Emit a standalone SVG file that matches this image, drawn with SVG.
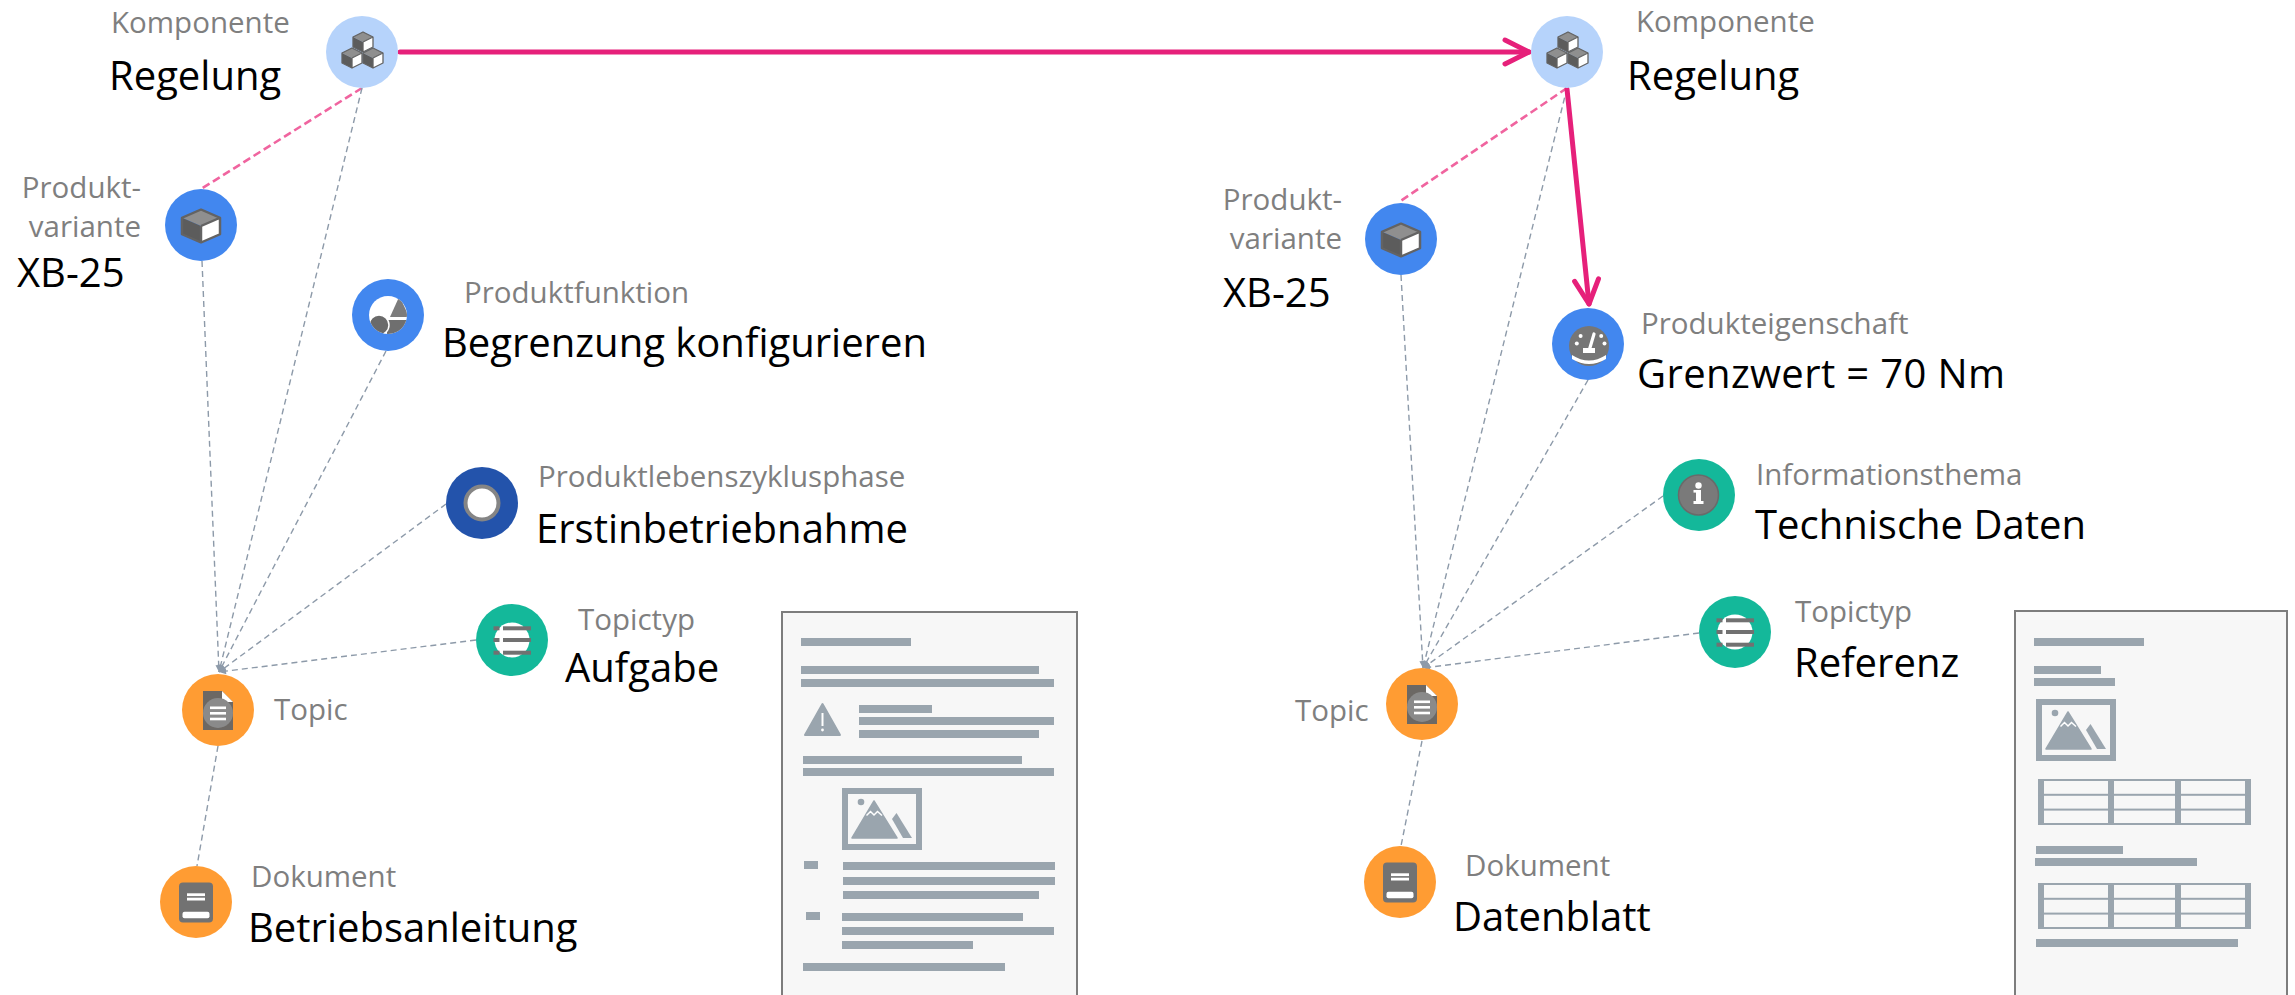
<svg xmlns="http://www.w3.org/2000/svg" width="2295" height="995" viewBox="0 0 2295 995">
<style>
  text { font-family: "Open Sans", "Noto Sans", "DejaVu Sans", sans-serif; }
  .kind { font-size: 29.5px; fill: #7f7f7f; }
  .name { font-size: 40px; fill: #000000; }
  .end { text-anchor: end; }
  .rel { fill: none; stroke: #8d9aa9; stroke-width: 1.4; stroke-dasharray: 6 4; }
  .link { fill: none; stroke: #f0649f; stroke-width: 2.6; stroke-dasharray: 8 4; }
  .flow { fill: none; stroke: #e6207a; stroke-width: 5; stroke-linecap: round; }
  .bar { fill: #9aa5ae; }
  .sheet { fill: #f7f7f7; stroke: #7d7d7d; stroke-width: 2; }
  .c-comp { fill: #b6d3fb; }
  .c-blue { fill: #4287ef; }
  .c-navy { fill: #2353ab; }
  .c-teal { fill: #14b89a; }
  .c-orange { fill: #ff9c33; }
  .ico { fill: #717171; }
  .wht { fill: #ffffff; }
</style>
<defs>
  <marker id="tip-small" markerUnits="userSpaceOnUse" markerWidth="10" markerHeight="8" viewBox="-8 -4 10 8" refX="0" refY="0" orient="auto">
    <path d="M0,0 L-7,-3.2 L-7,3.2 Z" fill="#8d9aa9"/>
  </marker>
  <marker id="chevron" markerUnits="userSpaceOnUse" markerWidth="36" markerHeight="36" viewBox="-30 -18 36 36" refX="0" refY="0" orient="auto">
    <path d="M-24,-12 L0,0 L-24,12" fill="none" stroke="#e6207a" stroke-width="5" stroke-linecap="round" stroke-linejoin="round"/>
  </marker>

  <!-- isometric cube used by the component and variant icons -->
  <g id="cube">
    <path d="M0,-10 L10,-5 L0,0 L-10,-5 Z" fill="#8f8f8f"/>
    <path d="M-10,-5 L0,0 L0,10 L-10,5 Z" fill="#5c5c5c"/>
    <path d="M0,0 L10,-5 L10,5 L0,10 Z" fill="#ffffff"/>
    <path d="M0,-10 L10,-5 L10,5 L0,10 L-10,5 L-10,-5 Z M0,0 L10,-5 M0,0 L0,10" fill="none" stroke="#636363" stroke-width="1.3" stroke-linejoin="round"/>
  </g>

  <!-- list glyph for topic types -->
  <g id="list-icon">
    <circle r="17.5" fill="#ffffff"/>
    <rect class="ico" x="-9" y="-13.7" width="28" height="4"/>
    <rect class="ico" x="-9" y="-2" width="28" height="4"/>
    <rect class="ico" x="-9" y="10.7" width="28" height="4"/>
    <rect class="ico" x="-18.5" y="-13.7" width="6" height="4"/>
    <rect class="ico" x="-18.5" y="-2" width="6" height="4"/>
    <rect class="ico" x="-18.5" y="10.7" width="6" height="4"/>
  </g>

  <!-- page glyph for topics -->
  <g id="topic-icon">
    <path d="M-15,-19 H4 L15,-8 V20 H-15 Z" fill="#6c6864"/>
    <path d="M4,-19 V-8 H15 Z" fill="#ffffff"/>
    <circle cx="0" cy="3" r="15" fill="#8a8a8a"/>
    <rect class="wht" x="-8" y="-3.5" width="16" height="2.6"/>
    <rect class="wht" x="-8" y="2" width="16" height="2.6"/>
    <rect class="wht" x="-8" y="7.7" width="16" height="2.6"/>
  </g>

  <!-- book glyph for documents -->
  <g id="book-icon">
    <rect x="-17" y="-19.5" width="34" height="40" rx="4" fill="#727272"/>
    <rect class="wht" x="-9" y="-8.7" width="18" height="2.8"/>
    <rect class="wht" x="-9" y="-4.3" width="18" height="2.8"/>
    <rect class="wht" x="-13.5" y="9.7" width="27" height="6.6" rx="2"/>
  </g>

  <!-- picture placeholder on the sample pages -->
  <g id="picture">
    <path d="M0,0 H80 V62 H0 Z M6,6 V56 H74 V6 Z" class="bar" fill-rule="evenodd"/>
    <circle class="bar" cx="19" cy="14" r="3.3"/>
    <path class="bar" d="M10,50 L32,13 L55,50 Z" stroke="#9aa5ae" stroke-width="1.5" stroke-linejoin="round"/>
    <path d="M24.5,27.5 L28.5,23.5 L32,27 L35.5,23.5 L40,27.5" fill="none" stroke="#ffffff" stroke-width="1.5"/>
    <path class="bar" d="M50,31 L54.5,25 L70,50 L61,50 Z"/>
  </g>

  <!-- grid placeholder on the data sheet -->
  <g id="grid">
    <rect class="bar" x="0" y="0" width="6" height="46"/>
    <rect class="bar" x="70" y="0" width="6" height="46"/>
    <rect class="bar" x="137" y="0" width="6" height="46"/>
    <rect class="bar" x="207" y="0" width="6" height="46"/>
    <rect class="bar" x="0" y="0" width="213" height="2"/>
    <rect class="bar" x="0" y="14.8" width="213" height="2"/>
    <rect class="bar" x="0" y="29.6" width="213" height="2"/>
    <rect class="bar" x="0" y="44" width="213" height="2"/>
  </g>
</defs>

<rect width="2295" height="995" fill="#ffffff"/>

<!-- sample pages -->
<g id="sheet-task">
  <rect class="sheet" x="782" y="612" width="295" height="400"/>
  <rect class="bar" x="801" y="638" width="110" height="8"/>
  <rect class="bar" x="801" y="666" width="238" height="8"/>
  <rect class="bar" x="801" y="679" width="253" height="8"/>
  <path class="bar" d="M822.5,704 L840,735 H805 Z" stroke="#9aa5ae" stroke-width="2" stroke-linejoin="round"/>
  <path d="M822.5,713 V726" stroke="#ffffff" stroke-width="2"/>
  <circle class="wht" cx="822.5" cy="730" r="1.4"/>
  <rect class="bar" x="859" y="705" width="73" height="8"/>
  <rect class="bar" x="859" y="717" width="195" height="8"/>
  <rect class="bar" x="859" y="730" width="180" height="8"/>
  <rect class="bar" x="803" y="756" width="219" height="8"/>
  <rect class="bar" x="803" y="768" width="251" height="8"/>
  <use href="#picture" transform="translate(842,788)"/>
  <rect class="bar" x="804" y="861" width="14" height="8"/>
  <rect class="bar" x="843" y="862" width="212" height="8"/>
  <rect class="bar" x="843" y="877" width="212" height="8"/>
  <rect class="bar" x="843" y="891" width="196" height="8"/>
  <rect class="bar" x="806" y="912" width="14" height="8"/>
  <rect class="bar" x="842" y="913" width="181" height="8"/>
  <rect class="bar" x="842" y="927" width="212" height="8"/>
  <rect class="bar" x="842" y="941" width="131" height="8"/>
  <rect class="bar" x="803" y="963" width="202" height="8"/>
</g>

<g id="sheet-reference">
  <rect class="sheet" x="2015" y="611" width="272" height="400"/>
  <rect class="bar" x="2034" y="638" width="110" height="8"/>
  <rect class="bar" x="2034" y="666" width="67" height="8"/>
  <rect class="bar" x="2034" y="678" width="81" height="8"/>
  <use href="#picture" transform="translate(2036,699)"/>
  <use href="#grid" transform="translate(2038,779)"/>
  <rect class="bar" x="2036" y="846" width="87" height="8"/>
  <rect class="bar" x="2035" y="858" width="162" height="8"/>
  <use href="#grid" transform="translate(2038,883)"/>
  <rect class="bar" x="2036" y="939" width="202" height="8"/>
</g>

<!-- connectors -->
<g id="connectors">
  <path class="link" d="M362,88 L201,189"/>
  <path class="rel" d="M362,88 L219,672" marker-end="url(#tip-small)"/>
  <path class="rel" d="M202,261 L219,672" marker-end="url(#tip-small)"/>
  <path class="rel" d="M386,351 L219,672" marker-end="url(#tip-small)"/>
  <path class="rel" d="M446,504 L219,672" marker-end="url(#tip-small)"/>
  <path class="rel" d="M476,640 L219,672" marker-end="url(#tip-small)"/>
  <path class="rel" d="M218,746 L197,866"/>

  <path class="link" d="M1567,88 L1399,202"/>
  <path class="rel" d="M1567,88 L1423,668" marker-end="url(#tip-small)"/>
  <path class="rel" d="M1401,275 L1423,668" marker-end="url(#tip-small)"/>
  <path class="rel" d="M1588,380 L1423,668" marker-end="url(#tip-small)"/>
  <path class="rel" d="M1663,496 L1423,668" marker-end="url(#tip-small)"/>
  <path class="rel" d="M1699,633 L1423,668" marker-end="url(#tip-small)"/>
  <path class="rel" d="M1422,741 L1401,846"/>

  <path class="flow" d="M400,52 L1529,52" marker-end="url(#chevron)"/>
  <path class="flow" d="M1567,89 L1589,304" marker-end="url(#chevron)"/>
</g>

<!-- left graph -->
<g id="komponente-left">
  <circle class="c-comp" cx="362" cy="52" r="36"/>
  <use href="#cube" transform="translate(352,58)"/>
  <use href="#cube" transform="translate(373,58)"/>
  <use href="#cube" transform="translate(363,42)"/>
  <text class="kind" x="111" y="33">Komponente</text>
  <text class="name" x="109" y="90">Regelung</text>
</g>

<g id="variante-left">
  <circle class="c-blue" cx="201" cy="225" r="36"/>
  <use href="#cube" transform="translate(201,226) scale(1.9,1.65)"/>
  <text class="kind end" x="141" y="198">Produkt-</text>
  <text class="kind end" x="141" y="237">variante</text>
  <text class="name" x="17" y="287">XB-25</text>
</g>

<g id="funktion-left">
  <clipPath id="fn-clip"><circle cx="388" cy="315" r="19"/></clipPath>
  <circle class="c-blue" cx="388" cy="315" r="36"/>
  <circle class="wht" cx="388" cy="315" r="19"/>
  <g clip-path="url(#fn-clip)">
    <path d="M399.5,296 L409,317 H390 Z" fill="#7c7c7c"/>
    <rect x="387" y="320" width="22" height="16" fill="#6f6f6f"/>
    <circle cx="379" cy="325" r="10" fill="#6a6a6a" stroke="#ffffff" stroke-width="1.5"/>
  </g>
  <text class="kind" x="464" y="303">Produktfunktion</text>
  <text class="name" x="442" y="357">Begrenzung konfigurieren</text>
</g>

<g id="phase-left">
  <circle class="c-navy" cx="482" cy="503" r="36"/>
  <circle cx="482" cy="503" r="16.5" fill="#ffffff" stroke="#858585" stroke-width="4"/>
  <text class="kind" x="538" y="487">Produktlebenszyklusphase</text>
  <text class="name" x="536" y="543">Erstinbetriebnahme</text>
</g>

<g id="topictyp-left">
  <circle class="c-teal" cx="512" cy="640" r="36"/>
  <use href="#list-icon" transform="translate(512,640)"/>
  <text class="kind" x="578" y="630">Topictyp</text>
  <text class="name" x="565" y="682">Aufgabe</text>
</g>

<g id="topic-left">
  <circle class="c-orange" cx="218" cy="710" r="36"/>
  <use href="#topic-icon" transform="translate(218,710)"/>
  <text class="kind" x="274" y="720">Topic</text>
</g>

<g id="dokument-left">
  <circle class="c-orange" cx="196" cy="902" r="36"/>
  <use href="#book-icon" transform="translate(196,902)"/>
  <text class="kind" x="251" y="887">Dokument</text>
  <text class="name" x="248" y="942">Betriebsanleitung</text>
</g>

<!-- right graph -->
<g id="komponente-right">
  <circle class="c-comp" cx="1567" cy="52" r="36"/>
  <use href="#cube" transform="translate(1557,58)"/>
  <use href="#cube" transform="translate(1578,58)"/>
  <use href="#cube" transform="translate(1568,42)"/>
  <text class="kind" x="1636" y="32">Komponente</text>
  <text class="name" x="1627" y="90">Regelung</text>
</g>

<g id="variante-right">
  <circle class="c-blue" cx="1401" cy="239" r="36"/>
  <use href="#cube" transform="translate(1401,240) scale(1.9,1.65)"/>
  <text class="kind end" x="1342" y="210">Produkt-</text>
  <text class="kind end" x="1342" y="249">variante</text>
  <text class="name" x="1223" y="307">XB-25</text>
</g>

<g id="eigenschaft-right">
  <circle class="c-blue" cx="1588" cy="344" r="36"/>
  <circle cx="1589" cy="346" r="20" fill="#767676"/>
  <path d="M1572,355 Q1589,366 1606,355 L1606,359 Q1589,369 1572,359 Z" fill="#ffffff"/>
  <g fill="#ffffff">
    <circle cx="1576.8" cy="343.5" r="2"/>
    <circle cx="1580.6" cy="336" r="2"/>
    <circle cx="1601.2" cy="336" r="2"/>
    <circle cx="1604.5" cy="343.5" r="2"/>
  </g>
  <path d="M1589,351 L1594,334" stroke="#ffffff" stroke-width="3.2" stroke-linecap="round"/>
  <rect class="wht" x="1583" y="348" width="12" height="5"/>
  <text class="kind" x="1641" y="334">Produkteigenschaft</text>
  <text class="name" x="1637" y="388" textLength="368">Grenzwert = 70 Nm</text>
</g>

<g id="thema-right">
  <circle class="c-teal" cx="1699" cy="495" r="36"/>
  <circle cx="1698.5" cy="495" r="20" fill="#7a7a7a" stroke="#6a6a6a" stroke-width="1.5"/>
  <circle class="wht" cx="1698.5" cy="485.5" r="3.2"/>
  <rect class="wht" x="1696" y="490" width="5" height="13"/>
  <rect class="wht" x="1693.5" y="490" width="5" height="2.6"/>
  <rect class="wht" x="1693.5" y="501" width="10" height="3"/>
  <text class="kind" x="1756" y="485">Informationsthema</text>
  <text class="name" x="1755" y="539">Technische Daten</text>
</g>

<g id="topictyp-right">
  <circle class="c-teal" cx="1735" cy="632" r="36"/>
  <use href="#list-icon" transform="translate(1735,632)"/>
  <text class="kind" x="1795" y="622">Topictyp</text>
  <text class="name" x="1794" y="677">Referenz</text>
</g>

<g id="topic-right">
  <circle class="c-orange" cx="1422" cy="704" r="36"/>
  <use href="#topic-icon" transform="translate(1422,704)"/>
  <text class="kind" x="1295" y="721">Topic</text>
</g>

<g id="dokument-right">
  <circle class="c-orange" cx="1400" cy="882" r="36"/>
  <use href="#book-icon" transform="translate(1400,882)"/>
  <text class="kind" x="1465" y="876">Dokument</text>
  <text class="name" x="1453" y="931">Datenblatt</text>
</g>
</svg>
